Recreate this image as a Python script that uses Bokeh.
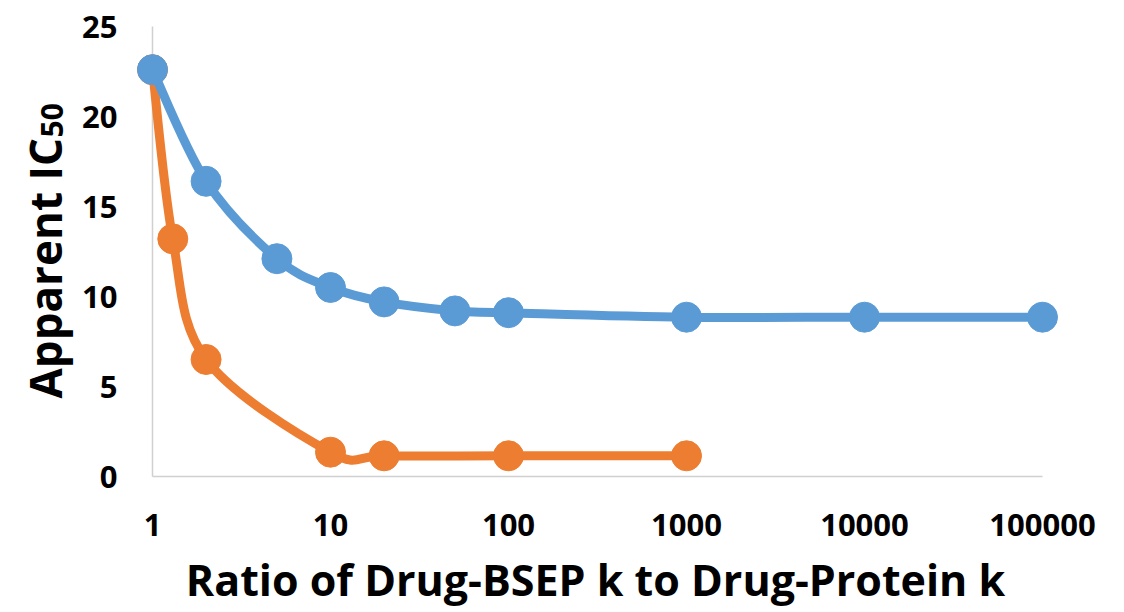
import numpy as np
from bokeh.plotting import figure
from bokeh.models import FixedTicker, NumeralTickFormatter, ColumnDataSource, Range1d
from bokeh.core.properties import value
from bokeh.embed import file_html
from bokeh.resources import INLINE

# ---------------- data ----------------
ratio_blue = [1, 2, 5, 10, 20, 50, 100, 1000, 10000, 100000]
ic50_blue = [22.6, 16.4, 12.1, 10.5, 9.7, 9.2, 9.1, 8.85, 8.85, 8.85]

ratio_orange = [1, 1.3, 2, 10, 20, 100, 1000]
ic50_orange = [22.6, 13.2, 6.5, 1.35, 1.15, 1.15, 1.15]

x_ticks = [1, 10, 100, 1000, 10000, 100000]
y_ticks = [0, 5, 10, 15, 20, 25]

x_title = "Ratio of Drug-BSEP k to Drug-Protein k"
y_title = "Apparent IC"
y_title_sub = "50"

BLUE = "#5B9BD5"
ORANGE = "#ED7D31"
AXIS_GRAY = "#D0D0D0"
FONT = "Open Sans"


def smooth_segments(xs, ys):
    """Excel-like smoothed line: cubic Bezier segments (Catmull-Rom style)
    computed in the (log10 x, y) space of the chart."""
    lx = np.log10(np.asarray(xs, dtype=float))
    yy = np.asarray(ys, dtype=float)
    n = len(lx)
    d = dict(x0=[], y0=[], x1=[], y1=[], cx0=[], cy0=[], cx1=[], cy1=[])
    for i in range(n - 1):
        i0, i1, i2, i3 = max(i - 1, 0), i, i + 1, min(i + 2, n - 1)
        c1x = lx[i1] + (lx[i2] - lx[i0]) / 6.0
        c1y = yy[i1] + (yy[i2] - yy[i0]) / 6.0
        c2x = lx[i2] - (lx[i3] - lx[i1]) / 6.0
        c2y = yy[i2] - (yy[i3] - yy[i1]) / 6.0
        d["x0"].append(10 ** lx[i1]); d["y0"].append(yy[i1])
        d["x1"].append(10 ** lx[i2]); d["y1"].append(yy[i2])
        d["cx0"].append(10 ** c1x); d["cy0"].append(c1y)
        d["cx1"].append(10 ** c2x); d["cy1"].append(c2y)
    return ColumnDataSource(d)


W, H = 1120, 612
p = figure(width=W, height=H, x_axis_type="log",
           x_range=Range1d(x_ticks[0], x_ticks[-1]),
           y_range=Range1d(y_ticks[0], y_ticks[-1]),
           output_backend="svg", toolbar_location=None,
           min_border_left=152, min_border_right=W - 1042,
           min_border_top=26, min_border_bottom=H - 476)

p.outline_line_color = None
p.background_fill_color = "white"
p.border_fill_color = "white"
p.xgrid.visible = False
p.ygrid.visible = False

for ax in (p.xaxis, p.yaxis):
    ax.axis_line_color = AXIS_GRAY
    ax.axis_line_width = 1.5
    ax.major_tick_line_color = None
    ax.minor_tick_line_color = None
    ax.major_tick_in = 0
    ax.major_tick_out = 0
    ax.minor_tick_in = 0
    ax.minor_tick_out = 0
    ax.major_label_text_font = FONT
    ax.major_label_text_font_style = "bold"
    ax.major_label_text_font_size = "31px"
    ax.major_label_text_color = "black"

p.xaxis.ticker = FixedTicker(ticks=x_ticks)
p.xaxis.formatter = NumeralTickFormatter(format="0")
p.xaxis.major_label_standoff = 37
p.yaxis.ticker = FixedTicker(ticks=y_ticks)
p.yaxis.major_label_standoff = 35

# series (orange below blue)
for xs, ys, col in ((ratio_orange, ic50_orange, ORANGE), (ratio_blue, ic50_blue, BLUE)):
    src = smooth_segments(xs, ys)
    r1 = p.bezier(x0="x0", y0="y0", x1="x1", y1="y1", cx0="cx0", cy0="cy0",
                  cx1="cx1", cy1="cy1", source=src, line_color=col,
                  line_width=9, line_cap="round")
    r1.level = "overlay"
    r2 = p.scatter(xs, ys, size=30, marker="circle", fill_color=col, line_color=col)
    r2.level = "overlay"

# titles, anchored at the frame's lower-left corner and offset in pixels
x0, y0 = x_ticks[0], y_ticks[0]
t1 = p.text(x=[x0], y=[y0], text=[x_title], x_offset=443, y_offset=103,
            text_font=value(FONT), text_font_style="bold", text_font_size="43px",
            text_align="center", text_baseline="alphabetic", text_color="black")
t2 = p.text(x=[x0], y=[y0], text=[y_title], angle=np.pi / 2, x_offset=-108, y_offset=-78,
            text_font=value(FONT), text_font_style="bold", text_font_size="44px",
            text_align="left", text_baseline="alphabetic", text_color="black")
t3 = p.text(x=[x0], y=[y0], text=[y_title_sub], angle=np.pi / 2, x_offset=-101, y_offset=-339,
            text_font=value(FONT), text_font_style="bold", text_font_size="30px",
            text_align="left", text_baseline="alphabetic", text_color="black")
for t in (t1, t2, t3):
    t.level = "overlay"

open("out.html", "w").write(file_html(p, INLINE))
